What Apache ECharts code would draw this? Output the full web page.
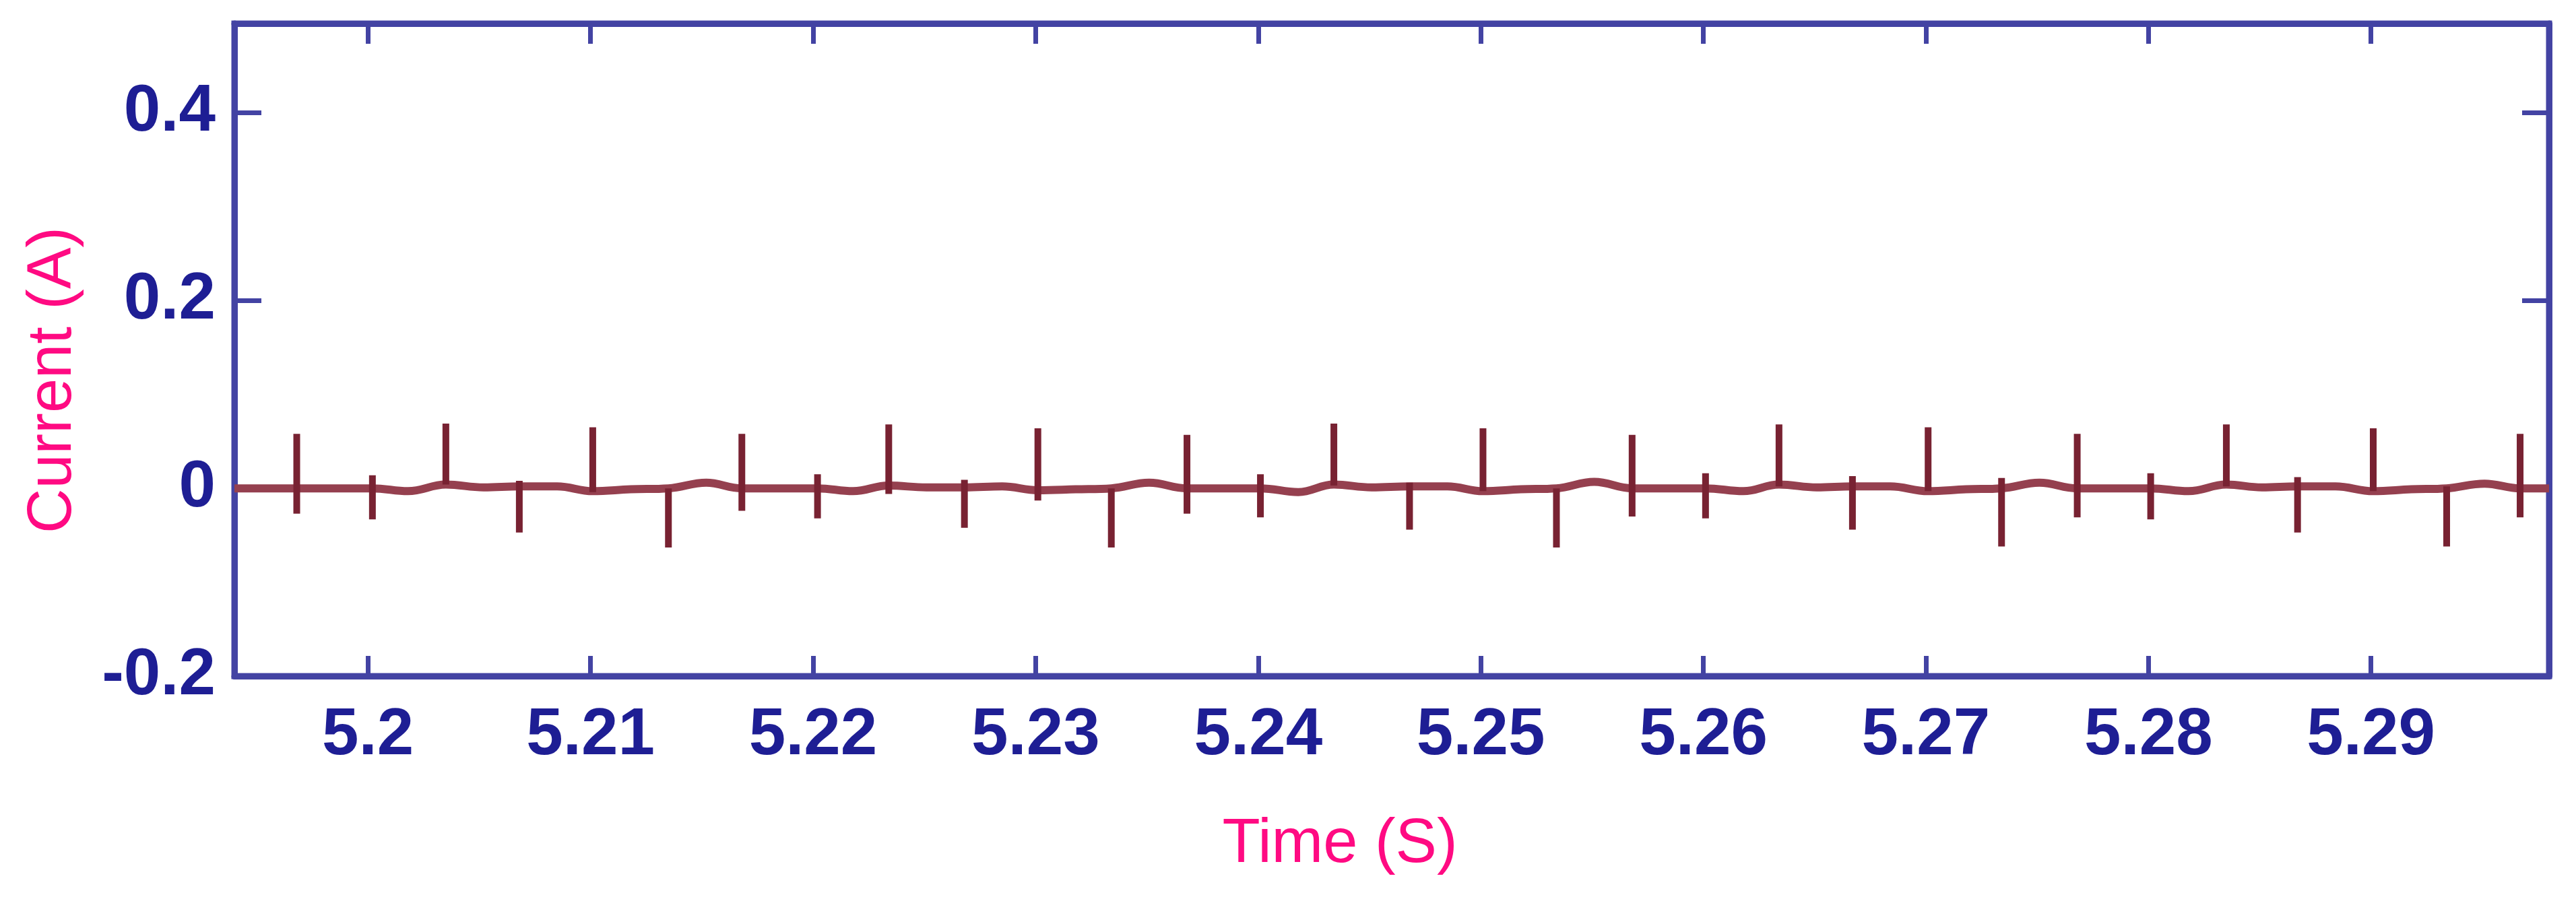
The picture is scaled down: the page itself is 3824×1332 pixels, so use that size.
<!DOCTYPE html>
<html>
<head>
<meta charset="utf-8">
<script src="https://cdn.jsdelivr.net/npm/echarts@6/dist/echarts.min.js"></script>
<style>
html,body{margin:0;padding:0;background:#fff;}
#chart{width:3824px;height:1332px;}
</style>
</head>
<body>
<div id="chart"></div>
<script>
// ---- data ----
const xRange = [5.194, 5.298];
const yRange = [-0.2, 0.495];

// spike instants (s)
const spikeTime = [5.1968, 5.2002, 5.2035, 5.2068, 5.2101, 5.2135, 5.2168, 5.2202, 5.2234, 5.2268,
                   5.2301, 5.2334, 5.2368, 5.2401, 5.2434, 5.2468, 5.2501, 5.2534, 5.2568, 5.2601,
                   5.2634, 5.2667, 5.2701, 5.2734, 5.2768, 5.2801, 5.2835, 5.2867, 5.2901, 5.2934, 5.2967];
// spike tops (A)
const spikeUp = [0.058, 0.014, 0.069, 0.008, 0.065, 0.000, 0.058, 0.015, 0.068, 0.009,
                 0.064, 0.000, 0.057, 0.015, 0.069, 0.006, 0.064, 0.000, 0.057, 0.016,
                 0.068, 0.013, 0.065, 0.011, 0.058, 0.016, 0.068, 0.012, 0.064, 0.002, 0.058];
// spike bottoms (A)
const spikeDown = [-0.027, -0.033, 0.004, -0.047, -0.004, -0.063, -0.024, -0.032, -0.006, -0.042,
                   -0.013, -0.063, -0.027, -0.031, 0.003, -0.044, -0.003, -0.063, -0.030, -0.032,
                   0.002, -0.044, -0.003, -0.062, -0.031, -0.033, 0.002, -0.047, -0.003, -0.062, -0.031];
// baseline level at each spike (A)
const spikeBase = [0.000, 0.000, 0.004, 0.002, -0.003, 0.000, 0.000, 0.000, 0.003, 0.001,
                   -0.002, 0.000, 0.000, 0.000, 0.004, 0.002, -0.003, 0.000, 0.000, 0.000,
                   0.004, 0.002, -0.003, 0.000, 0.000, 0.000, 0.004, 0.002, -0.003, 0.000, 0.000];
// baseline ripple between spikes
const waveTime = [5.1940, 5.1985, 5.2018, 5.2052, 5.2085, 5.2118, 5.2152, 5.2185, 5.2218, 5.2251,
                  5.2285, 5.2318, 5.2351, 5.2385, 5.2418, 5.2451, 5.2485, 5.2518, 5.2551, 5.2585,
                  5.2618, 5.2651, 5.2684, 5.2718, 5.2751, 5.2785, 5.2818, 5.2851, 5.2884, 5.2918,
                  5.2951, 5.2980];
const waveValue = [0.000, 0.000, -0.003, 0.001, 0.002, -0.001, 0.006, 0.000, -0.003, 0.001,
                   0.002, -0.001, 0.006, 0.000, -0.004, 0.001, 0.002, -0.001, 0.007, 0.000,
                   -0.003, 0.001, 0.002, -0.001, 0.006, 0.000, -0.003, 0.001, 0.002, -0.001,
                   0.005, 0.000];

const xTitle = 'Time (S)';
const yTitle = 'Current (A)';

// ---- build line points ----
const basePoints = [[waveTime[0], waveValue[0]]];
const spikePoints = [];
for (let i = 0; i < spikeTime.length; i++) {
  const t = spikeTime[i];
  basePoints.push([t, spikeBase[i]], [waveTime[i + 1], waveValue[i + 1]]);
  spikePoints.push([t, spikeUp[i]], [t, spikeDown[i]], [t, '-']);
}

const frameColor = '#4343a3';
const labelColor = '#1e1e94';
const titleColor = '#ff0a82';
const font = '"Liberation Sans", Arial, sans-serif';

const chart = echarts.init(document.getElementById('chart'), null, {renderer: 'canvas'});
const lineAxis = {show: true, onZero: false, lineStyle: {color: frameColor, width: 9}};

chart.setOption({
  animation: false,
  backgroundColor: '#ffffff',
  grid: {left: 348, right: 40, top: 35, bottom: 328, show: true, borderColor: frameColor, borderWidth: 9},
  xAxis: [{
    type: 'value', min: xRange[0], max: xRange[1], splitNumber: 10, position: 'bottom',
    axisLine: lineAxis,
    axisTick: {show: true, inside: true, length: 30, lineStyle: {color: frameColor, width: 7}},
    splitLine: {show: false},
    axisLabel: {show: true, showMinLabel: false, showMaxLabel: false, margin: 40,
                color: labelColor, fontFamily: font, fontWeight: 'bold', fontSize: 98},
    name: xTitle, nameLocation: 'middle', nameGap: 205,
    nameTextStyle: {color: titleColor, fontFamily: font, fontSize: 92, padding: [0, 154, 0, 0]}
  }, {
    type: 'value', min: xRange[0], max: xRange[1], splitNumber: 10, position: 'top',
    axisLine: lineAxis,
    axisTick: {show: true, inside: true, length: 30, lineStyle: {color: frameColor, width: 7}},
    splitLine: {show: false}, axisLabel: {show: false}
  }],
  yAxis: [{
    type: 'value', min: yRange[0], max: yRange[1], interval: 0.2, position: 'left',
    axisLine: lineAxis,
    axisTick: {show: true, inside: true, length: 40, lineStyle: {color: frameColor, width: 7}},
    splitLine: {show: false},
    axisLabel: {show: true, showMaxLabel: false, margin: 28,
                color: labelColor, fontFamily: font, fontWeight: 'bold', fontSize: 98},
    name: yTitle, nameLocation: 'middle', nameGap: 222,
    nameTextStyle: {color: titleColor, fontFamily: font, fontSize: 92, padding: [0, 90, 0, 0]}
  }, {
    type: 'value', min: yRange[0], max: yRange[1], interval: 0.2, position: 'right',
    axisLine: lineAxis,
    axisTick: {show: true, inside: true, length: 40, lineStyle: {color: frameColor, width: 7}},
    splitLine: {show: false}, axisLabel: {show: false}
  }],
  series: [{
    name: 'baseline', type: 'line', xAxisIndex: 0, yAxisIndex: 0, data: basePoints,
    showSymbol: false, symbol: 'none', clip: true, smooth: 0.4,
    lineStyle: {color: '#95404f', width: 12}
  }, {
    name: 'spikes', type: 'line', xAxisIndex: 0, yAxisIndex: 0, data: spikePoints,
    showSymbol: false, symbol: 'none', clip: true, connectNulls: false,
    lineStyle: {color: '#782232', width: 10, cap: 'butt'}
  }]
});
</script>
</body>
</html>
